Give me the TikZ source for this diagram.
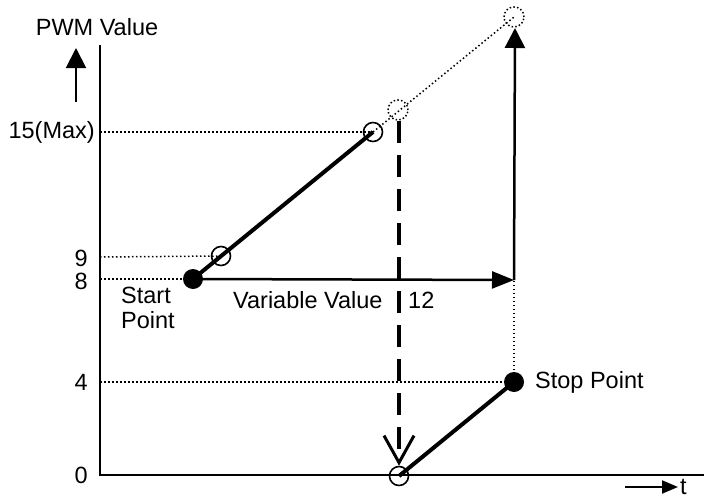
\documentclass[tikz,border=0pt]{standalone}
\usepackage{fontspec}
\setmainfont{Liberation Sans}
\usetikzlibrary{arrows.meta}
\begin{document}
\begin{tikzpicture}[x=1pt,y=-1pt,
  lbl/.style={inner sep=0pt,font=\fontsize{23.5}{25}\selectfont},
  axis/.style={line width=2pt},
  guide/.style={line width=1.5pt,dash pattern=on 1.5pt off 2.5pt},
  thickseg/.style={line width=4pt},
  opendot/.style={circle,draw,line width=1.6pt,minimum size=19pt,inner sep=0pt},
  ghostdot/.style={circle,draw,line width=1.5pt,dash pattern=on 1.5pt off 2.2pt,minimum size=20pt,inner sep=0pt},
  filldot/.style={circle,fill,minimum size=20pt,inner sep=0pt}]
\useasboundingbox (0,0) rectangle (704,498);
% axes
\coordinate (ytop) at (100,45);
\coordinate (orig) at (100,475);
\coordinate (xend) at (704,475);
\draw[axis] (ytop) -- (orig) -- (xend);
% axis labels
\node[lbl] (pwm) at (97,27) {PWM Value};
\coordinate (ua0) at (76,102);
\coordinate (ua1) at (76,48);
\draw[line width=2pt,-{Triangle[length=20pt,width=20pt]}] (ua0) -- (ua1);
\coordinate (ta0) at (625,487);
\coordinate (ta1) at (678,487);
\draw[line width=2pt,-{Triangle[length=16pt,width=13pt]}] (ta0) -- (ta1);
\node[lbl,anchor=west] (t) at (680,487) {t};
\node[lbl,anchor=east] (l15) at (95,132) {15(Max)};
\node[lbl,anchor=east] (l9) at (88,258) {9};
\node[lbl,anchor=east] (l8) at (88,281) {8};
\node[lbl,anchor=east] (l4) at (88,382) {4};
\node[lbl,anchor=east] (l0) at (88,475) {0};
% points
\coordinate (y15) at (100,132);
\coordinate (y9) at (100,257);
\coordinate (y8) at (100,279);
\coordinate (y4) at (100,382);
\node[filldot] (start) at (193,279) {};
\node[opendot] (c9) at (221,256) {};
\node[opendot] (c15) at (373,132) {};
\node[ghostdot] (g15) at (398,110) {};
\node[ghostdot] (gtop) at (514,17) {};
\node[opendot] (zero) at (399,476) {};
\node[filldot] (stop) at (514,382) {};
\coordinate (hend) at (514,280);
\coordinate (vtop) at (515,28);
% guides
\draw[guide] (y15) -- (c15.center);
\draw[guide] (y9) -- (c9.center);
\draw[guide] (y8) -- (start.center);
\draw[guide] (y4) -- (stop.center);
\draw[guide] (stop.center) -- (hend);
\draw[guide] (c15.center) -- (gtop.center);
% thick segments
\draw[thickseg] (start.center) -- (c15.center);
\draw[thickseg] (zero.center) -- (stop.center);
% arrows
\draw[line width=2.5pt,-{Triangle[length=22pt,width=17pt]}] (start.center) -- (hend);
\draw[line width=2.5pt,-{Triangle[length=20pt,width=20pt]}] (hend) -- (vtop);
\coordinate (dtop) at (399,121);
\draw[line width=4pt,dash pattern=on 22pt off 12pt,-{Straight Barb[length=27pt,width=30pt,line width=3pt]}] (dtop) -- (zero.north);
% texts
\node[lbl,anchor=west,align=left] (sp) at (121,308) {Start\\Point};
\node[lbl,anchor=west] (vv) at (233,300) {Variable Value};
\node[lbl,anchor=west] (v12) at (408,300) {12};
\node[lbl,anchor=west] (stp) at (535,382) {Stop Point};
\end{tikzpicture}
\end{document}
